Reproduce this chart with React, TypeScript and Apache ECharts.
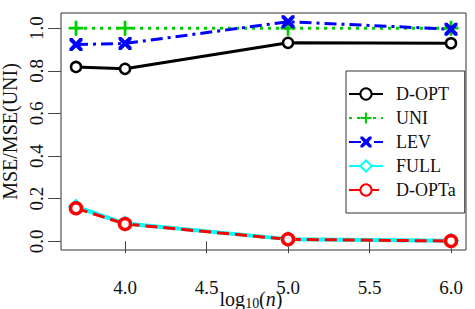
import React, { useEffect, useRef } from "react";
import * as echarts from "echarts";

const xValues = [3.699, 4.0, 5.0, 6.0];
const dOpt = [0.818, 0.809, 0.931, 0.929];
const uni = [1.0, 1.0, 1.0, 1.0];
const lev = [0.923, 0.928, 1.03, 0.995];
const full = [0.162, 0.083, 0.01, 0.002];
const dOptA = [0.155, 0.081, 0.009, 0.001];
const xTicks = [4.0, 4.5, 5.0, 5.5, 6.0];
const yTicks = [0.0, 0.2, 0.4, 0.6, 0.8, 1.0];
const names = ["D-OPT", "UNI", "LEV", "FULL", "D-OPTa"];
const yTitle = "MSE/MSE(UNI)";

const FONT = "Liberation Serif";
const plusPath = "path://M-1.3,-7 H1.3 V-1.3 H7 V1.3 H1.3 V7 H-1.3 V1.3 H-7 V-1.3 H-1.3 Z";
const crossPath =
  "path://M0,0 L2.2,0 L5,2.8 L7.8,0 L10,0 L10,2.2 L7.2,5 L10,7.8 L10,10 L7.8,10 L5,7.2 L2.2,10 L0,10 L0,7.8 L2.8,5 L0,2.2 Z";

function pairs(ys: number[]) {
  return xValues.map((x, i) => [x, ys[i]]);
}

export default function App() {
  const ref = useRef<HTMLDivElement>(null);
  useEffect(() => {
    if (!ref.current) return;
    const chart = echarts.init(ref.current, undefined, { renderer: "svg" });
    const lw = 3;
    chart.setOption({
      animation: false,
      backgroundColor: "#fff",
      textStyle: { fontFamily: FONT },
      grid: {
        left: 61,
        right: 9,
        top: 13,
        bottom: 59,
        show: true,
        borderColor: "#333",
        borderWidth: 1,
        backgroundColor: "transparent",
      },
      xAxis: {
        type: "value",
        min: 3.607,
        max: 6.092,
        axisLine: { show: false },
        splitLine: { show: false },
        axisTick: { show: true, length: 12, inside: false, customValues: xTicks, lineStyle: { color: "#444" } },
        axisLabel: {
          customValues: xTicks,
          formatter: (v: number) => v.toFixed(1),
          fontFamily: FONT,
          fontSize: 19,
          lineHeight: 14,
          color: "#111",
          margin: 30,
        },
      },
      yAxis: {
        type: "value",
        min: -0.041,
        max: 1.071,
        axisLine: { show: false },
        splitLine: { show: false },
        axisTick: { show: true, length: 13, inside: false, customValues: yTicks, lineStyle: { color: "#444" } },
        axisLabel: {
          customValues: yTicks,
          rotate: 90,
          formatter: (v: number) => v.toFixed(1),
          fontFamily: FONT,
          fontSize: 19,
          color: "#111",
          margin: 15,
        },
      },
      legend: {
        left: 346,
        top: 71,
        orient: "vertical",
        itemWidth: 34,
        itemHeight: 14,
        itemGap: 6,
        padding: [14, 9, 14, 2],
        borderColor: "#333",
        borderWidth: 1,
        backgroundColor: "#fff",
        textStyle: { fontFamily: FONT, fontSize: 18, color: "#111", padding: [0, 0, 0, 8] },
        data: names,
      },
      graphic: [
        {
          type: "text",
          x: 251,
          y: 299,
          style: {
            text: "{a|log}{b|10}{a|(}{c|n}{a|)}",
            align: "center",
            verticalAlign: "middle",
            rich: {
              a: { fontFamily: FONT, fontSize: 20, fill: "#111", lineHeight: 16 },
              b: { fontFamily: FONT, fontSize: 14, fill: "#111", lineHeight: 8, padding: [8, 0, 0, 0] },
              c: { fontFamily: FONT, fontSize: 20, fontStyle: "italic", fill: "#111", lineHeight: 16 },
            },
          },
        },
        {
          type: "text",
          x: 10,
          y: 131.5,
          rotation: Math.PI / 2,
          style: {
            text: yTitle,
            align: "center",
            verticalAlign: "middle",
            fontFamily: FONT,
            fontSize: 20,
            fill: "#111",
          },
        },
      ],
      series: [
        {
          name: "D-OPT",
          type: "line",
          data: pairs(dOpt),
          color: "#000",
          lineStyle: { color: "#000", width: lw, type: "solid" },
          symbol: "circle",
          symbolSize: 10,
          itemStyle: { color: "#fff", borderColor: "#000", borderWidth: 2.5 },
        },
        {
          name: "UNI",
          type: "line",
          data: pairs(uni),
          color: "#00cd00",
          lineStyle: { color: "#00cd00", width: lw, type: [3, 5] },
          symbol: plusPath,
          symbolSize: 15,
          itemStyle: { color: "#00cd00", borderWidth: 0 },
        },
        {
          name: "LEV",
          type: "line",
          data: pairs(lev),
          color: "#0000ff",
          lineStyle: { color: "#0000ff", width: lw, type: [12, 5, 3, 5] },
          symbol: crossPath,
          symbolSize: 13,
          itemStyle: { color: "#0000ff", borderWidth: 0 },
        },
        {
          name: "FULL",
          type: "line",
          data: pairs(full),
          color: "#00ffff",
          lineStyle: { color: "#00ffff", width: lw + 1, type: "solid" },
          symbol: "diamond",
          symbolSize: 13,
          itemStyle: { color: "#fff", borderColor: "#00ffff", borderWidth: 2.5 },
        },
        {
          name: "D-OPTa",
          type: "line",
          data: pairs(dOptA),
          color: "#ff0000",
          lineStyle: { color: "#ff0000", width: lw, type: [12, 6] },
          symbol: "circle",
          symbolSize: 11,
          itemStyle: { color: "#fff", borderColor: "#ff0000", borderWidth: 3.5 },
        },
      ],
    });
    return () => chart.dispose();
  }, []);
  return <div ref={ref} style={{ width: 475, height: 309, position: "absolute", left: 0, top: 0 }} />;
}
